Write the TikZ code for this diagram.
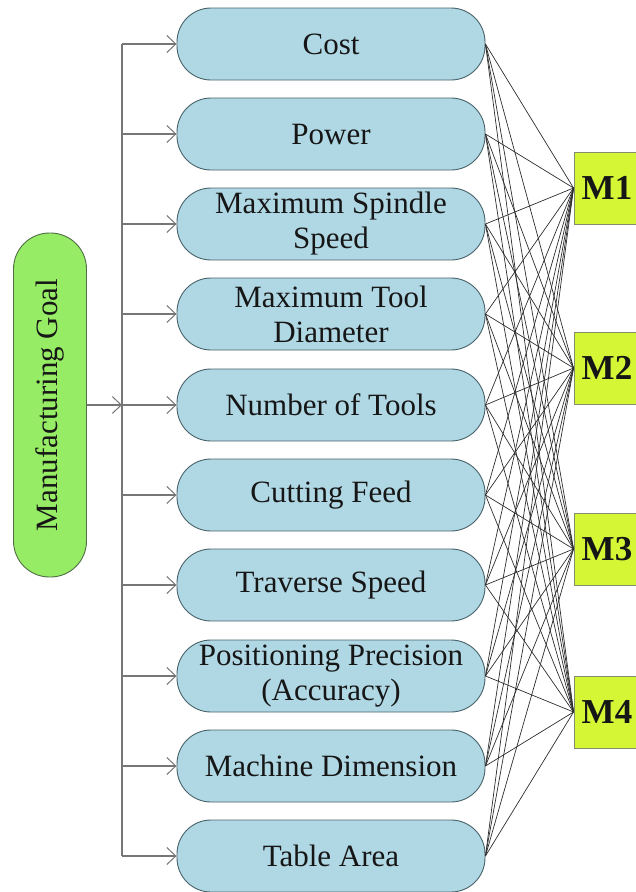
\documentclass[tikz,border=0pt]{standalone}
\usepackage{fontspec}
\setmainfont{Liberation Serif}
\usetikzlibrary{arrows.meta}

\definecolor{critfill}{RGB}{176,216,228}
\definecolor{critline}{RGB}{72,98,106}
\definecolor{goalfill}{RGB}{150,236,100}
\definecolor{goalline}{RGB}{80,110,70}
\definecolor{machfill}{RGB}{212,246,52}
\definecolor{machline}{RGB}{130,140,110}
\definecolor{ink}{RGB}{22,22,22}
\definecolor{feed}{RGB}{118,118,118}

\begin{document}
\begin{tikzpicture}[x=1pt,y=-1pt,
  crit/.style={draw=critline, fill=critfill, line width=0.9pt,
    rounded corners=34pt, minimum width=308pt, minimum height=72pt,
    inner sep=0pt, align=center, text=ink,
    font=\fontsize{31}{35}\selectfont},
  goalbox/.style={draw=goalline, fill=goalfill, line width=0.9pt,
    rounded corners=36pt, minimum width=73pt, minimum height=344pt,
    inner sep=0pt, text=ink, font=\fontsize{31}{35}\selectfont},
  machbox/.style={draw=machline, fill=machfill, line width=0.9pt,
    minimum width=66pt, minimum height=72pt, inner sep=0pt,
    text=ink, font=\fontsize{35}{38}\selectfont\bfseries},
  feedline/.style={draw=feed, line width=1.1pt},
  feedarrow/.style={feedline, -{Straight Barb[length=9pt,width=17pt,line width=1pt]}},
  web/.style={draw=ink!90, line width=0.7pt}]

\useasboundingbox (0,0) rectangle (636,892);
\clip (0,0) rectangle (636,892);

% criteria column
\foreach \i/\y/\t in {
  1/44/Cost,
  2/134/Power,
  3/224/{Maximum Spindle\\Speed},
  4/314/{Maximum Tool\\Diameter},
  5/405/Number of Tools,
  6/495/Cutting Feed,
  7/585/Traverse Speed,
  8/676/{Positioning Precision\\(Accuracy)},
  9/766/Machine Dimension,
  10/856/Table Area}
  \node[crit] (c\i) at (331,\y) {\t};

% goal
\node[goalbox] (goal) at (50,405) {\rotatebox{90}{Manufacturing Goal}};

% machines
\foreach \j/\y in {1/188, 2/368, 3/549, 4/712}
  \node[machbox] (m\j) at (607,\y) {M\j};

% distribution trunk
\coordinate (trunk) at (122,0);
\draw[feedline] (c1.west -| trunk) -- (c10.west -| trunk);
\foreach \i in {1,...,10}
  \draw[feedarrow] (c\i.west -| trunk) -- (c\i.west);
\draw[feedarrow] (goal.east) -- (goal.east -| trunk);

% criterion-to-machine web
\foreach \i in {1,...,10}
  \foreach \j in {1,...,4}
    \draw[web] (c\i.east) -- (m\j.west);
\end{tikzpicture}
\end{document}
